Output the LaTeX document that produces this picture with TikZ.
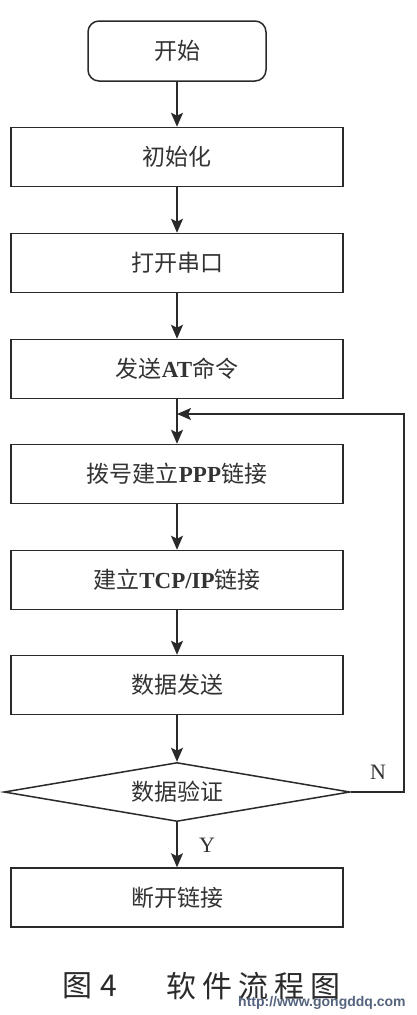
\documentclass[tikz,border=0pt]{standalone}
\usepackage{fontspec}
\setmainfont{Liberation Serif}
\newfontfamily\cjk{Noto Sans CJK SC}
\newfontfamily\wm{Liberation Sans}
\usetikzlibrary{arrows.meta,shapes.geometric}
\definecolor{ink}{HTML}{2A2A2A}
\definecolor{txt}{HTML}{333333}
\definecolor{wmcol}{HTML}{55647E}
\tikzset{
  box/.style={draw=ink,line width=1.5pt,minimum width=332pt,minimum height=59pt,
    inner sep=0pt,font=\fontsize{23}{26}\selectfont\cjk,text=txt},
  startbox/.style={box,rounded corners=11pt,minimum width=178pt,minimum height=60pt},
  decide/.style={box,shape=diamond,aspect=5.86,inner sep=0pt,minimum width=346pt,minimum height=59pt},
  flow/.style={draw=ink,line width=1.6pt,-{Stealth[length=14pt,width=12pt,inset=3pt]}},
  lbl/.style={font=\fontsize{22}{24}\selectfont,text=txt,inner sep=0pt}
}
\newcommand{\en}[1]{{\fontspec{Liberation Serif}\bfseries #1}}
\begin{document}
\begin{tikzpicture}[x=1pt,y=-1pt]
\useasboundingbox[fill=white] (0,0) rectangle (417,1015);
\node[startbox] (start) at (177,51) {开始};
\node[box] (init) at (177,157) {初始化};
\node[box] (port) at (177,263) {打开串口};
\node[box] (at) at (177,369) {发送\en{AT}命令};
\node[box] (ppp) at (177,474) {拨号建立\en{PPP}链接};
\node[box] (tcp) at (177,580) {建立\en{TCP/IP}链接};
\node[box] (send) at (177,685) {数据发送};
\node[decide] (chk) at (177,792) {数据验证};
\node[box] (end) at (177,897.5) {断开链接};
\coordinate (join) at (177,414);
\coordinate (rt) at (404,792);
\coordinate (rtop) at (404,414);
\draw[flow] (start) -- (init);
\draw[flow] (init) -- (port);
\draw[flow] (port) -- (at);
\draw[flow] (at) -- (ppp);
\draw[flow] (ppp) -- (tcp);
\draw[flow] (tcp) -- (send);
\draw[flow] (send) -- (chk);
\draw[flow] (chk) -- (end);
\draw[flow] (chk.east) -- (rt) -- (rtop) -- (join);
\node[lbl] (n) at (378,772) {N};
\node[lbl] (y) at (207,845) {Y};
\node[font=\fontsize{30}{32}\selectfont\cjk,text=ink,inner sep=0pt] (cap1) at (90,986) {图\hspace{8pt}4};
\node[font=\fontsize{30}{32}\selectfont\cjk,text=ink,inner sep=0pt] (cap2) at (253,986) {软\hspace{6pt}件\hspace{6pt}流\hspace{6pt}程\hspace{6pt}图};
\node[font=\fontsize{14}{16}\selectfont\wm\bfseries,text=wmcol,inner sep=0pt,anchor=west] (wmk) at (238,1003) {http://www.gongddq.com};
\end{tikzpicture}
\end{document}
